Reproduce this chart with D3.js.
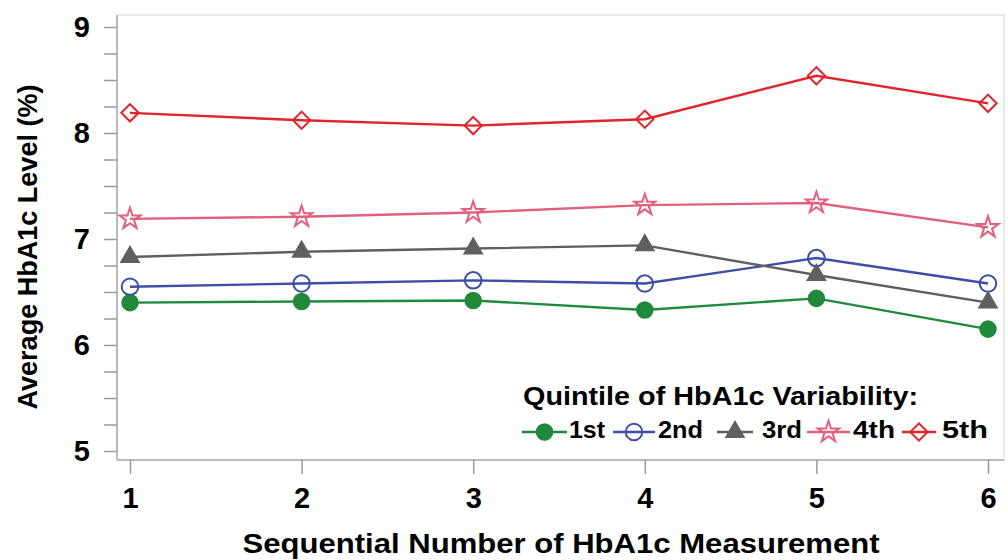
<!DOCTYPE html>
<html>
<head>
<meta charset="utf-8">
<script src="https://cdn.jsdelivr.net/npm/d3@7"></script>
<style>
  body { margin: 0; background: #fff; }
  svg { display: block; font-family: "Liberation Sans", Arial, sans-serif; font-weight: bold; }
</style>
</head>
<body>
<div id="chart"></div>
<script>
// data
var measurements = [1, 2, 3, 4, 5, 6];
var yTicks = [5, 6, 7, 8, 9];
var quintiles = ["1st", "2nd", "3rd", "4th", "5th"];
var q1 = [6.40, 6.41, 6.42, 6.33, 6.44, 6.15];
var q2 = [6.55, 6.58, 6.61, 6.58, 6.82, 6.58];
var q3 = [6.83, 6.88, 6.91, 6.94, 6.66, 6.40];
var q4 = [7.19, 7.21, 7.25, 7.32, 7.34, 7.11];
var q5 = [8.19, 8.12, 8.07, 8.13, 8.54, 8.28];

var series = [
    { name: quintiles[0], values: q1, color: "#1f8a3c", symbol: d3.symbolCircle, size: 190, fill: true, rot: 0 },
    { name: quintiles[1], values: q2, color: "#3d4ea8", symbol: d3.symbolCircle, size: 215, fill: false, rot: 0 },
    { name: quintiles[2], values: q3, color: "#5f5f5f", symbol: d3.symbolTriangle, size: 130, fill: true, rot: 0 },
    { name: quintiles[3], values: q4, color: "#e0607e", symbol: d3.symbolStar, size: 140, fill: false, rot: 0 },
    { name: quintiles[4], values: q5, color: "#e0252c", symbol: d3.symbolSquare, size: 150, fill: false, rot: 45 }
];

var W = 1008, H = 560;
var margin = { top: 15, right: 4, bottom: 100, left: 117 };
var width = W - margin.left - margin.right,
    height = H - margin.top - margin.bottom;

var svg = d3.select("#chart").append("svg")
    .attr("width", W)
    .attr("height", H);

var g = svg.append("g")
    .attr("transform", "translate(" + margin.left + "," + margin.top + ")");

// scales
var x = d3.scaleLinear().domain([1, 6]).range([13, 871]);
var y = d3.scaleLinear().domain([5, 9]).range([436, 12]);

// frame (top/right light)
g.append("rect")
    .attr("width", width)
    .attr("height", height)
    .attr("fill", "none")
    .attr("stroke", "#e2e2e2")
    .attr("stroke-width", 1.5);

// y axis, minor ticks every 0.25
var minor = d3.range(20, 37).map(function (d) { return d / 4; });
var yAxis = g.append("g")
    .call(d3.axisLeft(y)
        .tickValues(minor)
        .tickSize(13)
        .tickPadding(14)
        .tickFormat(function (d) { return yTicks.indexOf(d) >= 0 ? d : ""; }));
yAxis.select(".domain").attr("d", "M0,0V" + height).attr("stroke", "#aaa").attr("stroke-width", 1.5);
yAxis.selectAll(".tick line").attr("stroke", "#999").attr("stroke-width", 1.5);
yAxis.selectAll("text").attr("font-size", 29).attr("font-weight", "bold").attr("fill", "#000")
    .attr("font-family", "Liberation Sans, Arial, sans-serif");

// x axis
var xAxis = g.append("g")
    .attr("transform", "translate(0," + height + ")")
    .call(d3.axisBottom(x)
        .tickValues(measurements)
        .tickSize(14)
        .tickPadding(13)
        .tickFormat(d3.format("d")));
xAxis.select(".domain").attr("d", "M0,0H" + width).attr("stroke", "#aaa").attr("stroke-width", 1.5);
xAxis.selectAll(".tick line").attr("stroke", "#999").attr("stroke-width", 1.5);
xAxis.selectAll("text").attr("font-size", 29).attr("font-weight", "bold").attr("fill", "#000")
    .attr("font-family", "Liberation Sans, Arial, sans-serif");

// axis titles (the source is a bit stretched sideways)
svg.append("text")
    .attr("x", 561)
    .attr("y", 553)
    .attr("text-anchor", "middle")
    .attr("font-size", 28)
    .attr("textLength", 637)
    .attr("lengthAdjust", "spacingAndGlyphs")
    .text("Sequential Number of HbA1c Measurement");

svg.append("text")
    .attr("transform", "translate(37,247) rotate(-90)")
    .attr("text-anchor", "middle")
    .attr("font-size", 28)
    .attr("textLength", 325)
    .attr("lengthAdjust", "spacingAndGlyphs")
    .text("Average HbA1c Level (%)");

// lines + markers
var line = d3.line()
    .x(function (d, i) { return x(measurements[i]); })
    .y(function (d) { return y(d); });

series.forEach(function (s) {
    g.append("path")
        .datum(s.values)
        .attr("fill", "none")
        .attr("stroke", s.color)
        .attr("stroke-width", 2.4)
        .attr("d", line);

    g.selectAll(null)
        .data(s.values)
        .enter()
        .append("path")
        .attr("transform", function (d, i) {
            return "translate(" + x(measurements[i]) + "," + y(d) + ") rotate(" + s.rot + ")";
        })
        .attr("d", d3.symbol().type(s.symbol).size(s.size))
        .attr("fill", s.fill ? s.color : "none")
        .attr("stroke", s.color)
        .attr("stroke-width", 2);
});

// legend
var legend = svg.append("g");
legend.append("text")
    .attr("x", 523)
    .attr("y", 405)
    .attr("font-size", 25)
    .attr("textLength", 395)
    .attr("lengthAdjust", "spacingAndGlyphs")
    .text("Quintile of HbA1c Variability:");

var legendX = [522, 613, 717, 807, 902];
var legendW = [45, 42, 36, 43, 34];
var legendT = [569, 658, 762, 853, 942];
var legendTW = [36, 45, 40, 42, 46];

var item = legend.selectAll("g.item")
    .data(series)
    .enter()
    .append("g")
    .attr("class", "item");

item.append("line")
    .attr("x1", function (d, i) { return legendX[i]; })
    .attr("x2", function (d, i) { return legendX[i] + legendW[i]; })
    .attr("y1", 432)
    .attr("y2", 432)
    .attr("stroke", function (d) { return d.color; })
    .attr("stroke-width", 2.4);

item.append("path")
    .attr("transform", function (d, i) {
        return "translate(" + (legendX[i] + legendW[i] / 2) + ",432) rotate(" + d.rot + ")";
    })
    .attr("d", function (d) { return d3.symbol().type(d.symbol).size(d.size)(); })
    .attr("fill", function (d) { return d.fill ? d.color : "none"; })
    .attr("stroke", function (d) { return d.color; })
    .attr("stroke-width", 2);

item.append("text")
    .attr("x", function (d, i) { return legendT[i]; })
    .attr("y", 438)
    .attr("font-size", 23)
    .attr("textLength", function (d, i) { return legendTW[i]; })
    .attr("lengthAdjust", "spacingAndGlyphs")
    .text(function (d) { return d.name; });
</script>
</body>
</html>
